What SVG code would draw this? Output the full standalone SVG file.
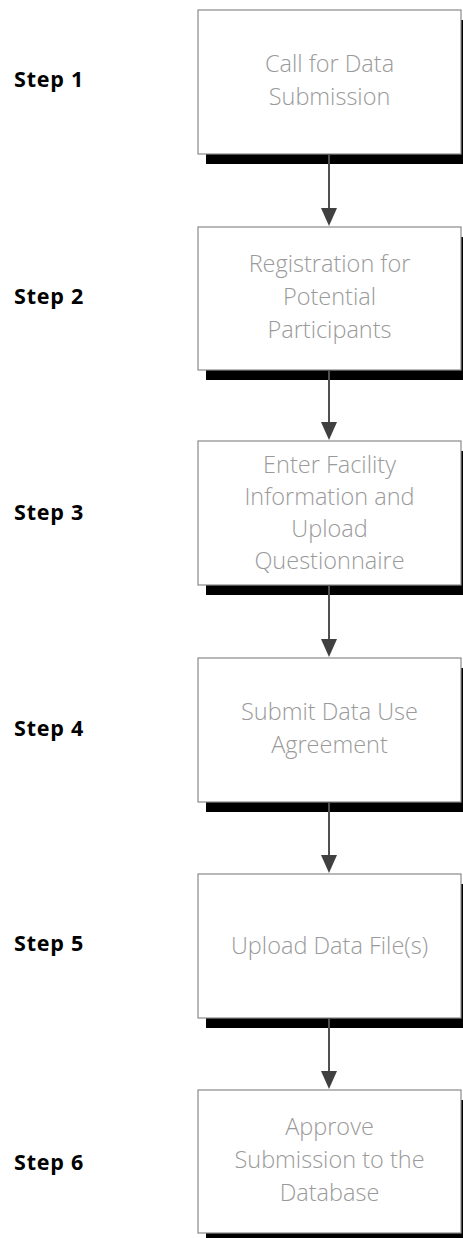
<svg xmlns="http://www.w3.org/2000/svg" width="463" height="1238" viewBox="0 0 463 1238">
<style>
.shadow{fill:#000}
.box{fill:#fff;stroke:#8a8a8a;stroke-width:1.2}
.t{font-family:"Open Sans","DejaVu Sans",sans-serif;font-weight:300;font-size:23.5px;fill:#9a9a9a;text-anchor:middle}
.step{font-family:"Open Sans","DejaVu Sans",sans-serif;font-weight:700;font-size:21.5px;letter-spacing:0.8px;fill:#000}
.arrow{stroke:#505050;stroke-width:2;fill:none}
</style>
<g id="node1">
<rect class="shadow" x="206" y="20" width="264" height="144"/>
<rect class="box" x="198" y="10" width="263" height="144"/>
<text class="t" x="329.5" y="72">Call for Data</text>
<text class="t" x="329.5" y="105">Submission</text>
<text class="step" x="14" y="87">Step 1</text>
</g>
<g id="node2">
<rect class="shadow" x="206" y="237" width="264" height="143"/>
<rect class="box" x="198" y="227" width="263" height="143"/>
<text class="t" x="329.5" y="272">Registration for</text>
<text class="t" x="329.5" y="305">Potential</text>
<text class="t" x="329.5" y="338">Participants</text>
<text class="step" x="14" y="304">Step 2</text>
</g>
<g id="node3">
<rect class="shadow" x="206" y="451" width="264" height="144"/>
<rect class="box" x="198" y="441" width="263" height="144"/>
<text class="t" x="329.5" y="473">Enter Facility</text>
<text class="t" x="329.5" y="505">Information and</text>
<text class="t" x="329.5" y="537">Upload</text>
<text class="t" x="329.5" y="569">Questionnaire</text>
<text class="step" x="14" y="520">Step 3</text>
</g>
<g id="node4">
<rect class="shadow" x="206" y="668" width="264" height="144"/>
<rect class="box" x="198" y="658" width="263" height="144"/>
<text class="t" x="329.5" y="720">Submit Data Use</text>
<text class="t" x="329.5" y="753">Agreement</text>
<text class="step" x="14" y="736">Step 4</text>
</g>
<g id="node5">
<rect class="shadow" x="206" y="884" width="264" height="144"/>
<rect class="box" x="198" y="874" width="263" height="144"/>
<text class="t" x="329.5" y="954">Upload Data File(s)</text>
<text class="step" x="14" y="951">Step 5</text>
</g>
<g id="node6">
<rect class="shadow" x="206" y="1100" width="264" height="143"/>
<rect class="box" x="198" y="1090" width="263" height="143"/>
<text class="t" x="329.5" y="1135">Approve</text>
<text class="t" x="329.5" y="1168">Submission to the</text>
<text class="t" x="329.5" y="1201">Database</text>
<text class="step" x="14" y="1170">Step 6</text>
</g>
<g id="connectors" fill="#404040">
<line class="arrow" x1="329" y1="154" x2="329" y2="210"/>
<path d="M321,208 L337,208 L329,226 Z"/>
<line class="arrow" x1="329" y1="370" x2="329" y2="424"/>
<path d="M321,422 L337,422 L329,440 Z"/>
<line class="arrow" x1="329" y1="585" x2="329" y2="641"/>
<path d="M321,639 L337,639 L329,657 Z"/>
<line class="arrow" x1="329" y1="802" x2="329" y2="857"/>
<path d="M321,855 L337,855 L329,873 Z"/>
<line class="arrow" x1="329" y1="1018" x2="329" y2="1073"/>
<path d="M321,1071 L337,1071 L329,1089 Z"/>
</g>
</svg>
